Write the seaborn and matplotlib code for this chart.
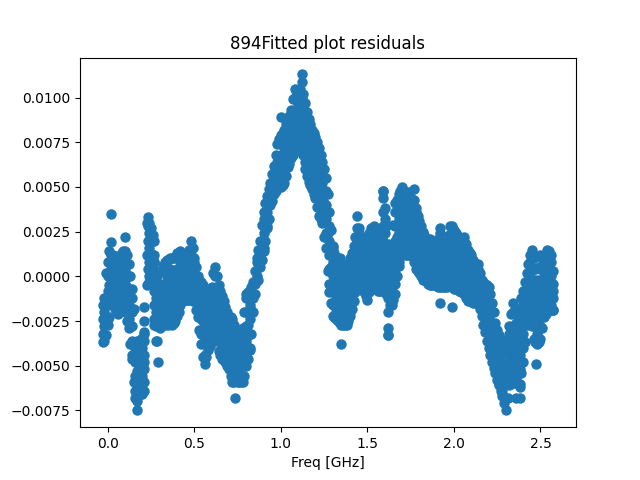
import matplotlib
matplotlib.use('Agg')
import matplotlib.pyplot as plt
import pandas as pd
import seaborn as sns

# residuals are typed in units of 1e-3, one list per frequency column
freq_low = [-0.03, -0.02, 0.0, 0.02, 0.04, 0.06, 0.08, 0.10, 0.12, 0.14, 0.16, 0.18, 0.20, 0.21, 0.23, 0.24,
            0.26, 0.27, 0.28, 0.30, 0.32, 0.34, 0.36, 0.38, 0.40, 0.42, 0.44, 0.46, 0.48, 0.50, 0.52, 0.54,
            0.56, 0.58, 0.60, 0.62, 0.64, 0.66, 0.68, 0.70, 0.72, 0.74, 0.76, 0.78, 0.80]
resid_low = [
    [-1.6, -2.4, -3.2, -3.7], [-1.2, -2.0, -2.8, -3.6], [0.8, 0.0, -0.8, -1.6, -2.4, -2.7],
    [1.9, 1.2, 0.4, -0.4, -1.2, -1.4], [0.8, 0.0, -0.8, -1.6, -1.8], [1.0, 0.4, -0.4, -1.2, -2.0, -2.1],
    [1.3, 0.8, 0.0, -0.8, -1.6, -1.8], [1.4, 1.2, 0.4, -0.4, -1.2, -2.0], [0.7, 0.0, -0.8, -1.6, -2.4, -2.9],
    [-0.7, -1.2, -2.0, -2.8, -3.6, -4.4, -4.6], [-3.7, -4.0, -4.8, -5.6, -6.4, -6.8], [-3.6, -4.4, -5.2, -6.0, -6.5],
    [-3.5, -4.0, -4.8, -5.6, -6.4, -6.6], [-3.1, -3.6, -4.4, -5.2, -5.9], [3.3, 2.8, 2.0, 1.2, 0.4, -0.4],
    [3.0, 2.4, 1.6, 0.8, 0.0, -0.3], [2.3, 2.0, 1.2, 0.4, -0.4], [1.2, 0.8, 0.0, -0.8, -1.6, -2.4, -2.7],
    [0.0, -0.4, -1.2, -2.0, -2.8, -3.6], [-0.5, -0.8, -1.6, -2.4, -2.9], [0.6, 0.4, -0.4, -1.2, -2.0, -2.6],
    [0.9, 0.0, -0.8, -1.6, -2.4, -2.6], [1.0, 0.4, -0.4, -1.2, -2.0, -2.6], [1.0, 0.0, -0.8, -1.6, -2.4, -2.6],
    [1.3, 0.4, -0.4, -1.2, -2.0, -2.2], [1.0, 0.8, 0.0, -0.8, -1.6], [0.9, 0.4, -0.4, -1.2, -1.3],
    [1.2, 0.8, 0.0, -0.8, -1.3], [2.0, 1.2, 0.4, -0.4, -1.2, -1.3], [1.0, 0.8, 0.0, -0.8, -1.4],
    [0.0, -0.4, -1.2, -2.0, -2.3], [-0.3, -0.8, -1.6, -2.4, -3.2, -3.8], [-0.8, -1.2, -2.0, -2.8, -3.6, -4.4, -4.9],
    [-1.2, -1.6, -2.4, -3.2, -4.0, -4.1], [-0.6, -1.2, -2.0, -2.8, -3.6, -3.7], [0.5, 0.0, -0.8, -1.6, -2.4, -2.9],
    [-0.5, -1.2, -2.0, -2.8, -3.6, -4.2], [-1.1, -1.6, -2.4, -3.2, -4.0, -4.6], [-1.7, -2.0, -2.8, -3.6, -4.4, -4.8],
    [-2.3, -3.2, -4.0, -4.8, -5.2], [-2.4, -2.8, -3.6, -4.4, -5.2, -5.9], [-3.1, -4.0, -4.8, -5.6, -5.8],
    [-3.3, -3.6, -4.4, -5.2, -5.9], [-2.9, -3.2, -4.0, -4.8, -5.6, -5.9], [-1.0, -1.2, -2.0, -2.8, -3.6, -4.4, -5.0]]

freq_mid = [0.82, 0.84, 0.86, 0.88, 0.90, 0.92, 0.94, 0.96, 0.98, 1.00, 1.02, 1.04, 1.06, 1.08, 1.10, 1.12,
            1.14, 1.16, 1.18, 1.20, 1.22, 1.24, 1.26, 1.28, 1.30, 1.32, 1.34, 1.36, 1.38, 1.40, 1.42, 1.44,
            1.46, 1.48, 1.50, 1.52, 1.54, 1.56, 1.58, 1.59, 1.60, 1.62, 1.64, 1.66]
resid_mid = [
    [-0.8, -1.6, -2.4, -3.2, -4.0, -4.1], [-0.3, -1.2, -2.0], [1.0, 0.8, 0.0], [2.0, 1.2, 0.5], [3.6, 3.2, 2.4, 1.6, 1.4],
    [4.5, 3.6, 2.8, 2.7], [5.2, 4.8, 4.0], [6.2, 5.4, 4.6], [7.4, 6.4, 5.6, 5.1], [7.9, 7.6, 6.8, 6.0, 5.2, 5.0],
    [8.2, 8.0, 7.2, 6.4, 5.6, 5.2], [8.8, 8.4, 7.6, 6.8, 6.1], [9.3, 8.8, 8.0, 7.2, 6.6], [10.5, 10.0, 9.2, 8.4, 7.6, 7.0],
    [9.8, 9.6, 8.8, 8.0, 7.2], [11.3, 10.9, 10.0, 9.2, 8.4, 7.6], [9.7, 8.8, 8.0, 7.2, 6.4, 6.0], [8.8, 8.4, 7.6, 6.8, 6.0, 5.3],
    [8.2, 8.0, 7.2, 6.4, 5.6, 4.9], [7.8, 6.8, 6.0, 5.2, 4.4], [7.2, 6.4, 5.6, 4.8, 4.0, 3.4], [6.4, 6.0, 5.2, 4.4, 3.6, 3.0],
    [5.5, 4.8, 4.0, 3.2, 2.4, 1.6], [3.6, 2.8, 2.0, 1.2, 0.4, -0.4, -0.9], [1.7, 1.6, 0.8, 0.0, -0.8, -1.6, -2.2],
    [1.0, 0.4, -0.4, -1.2, -2.0, -2.4], [1.0, 0.8, 0.0, -0.8, -1.6, -2.4, -2.6], [0.2, -0.4, -1.2, -2.0, -2.7],
    [0.4, 0.0, -0.8, -1.6, -2.4, -2.7], [1.0, 0.4, -0.4, -1.2, -2.0, -2.2], [1.7, 0.8, 0.0, -0.8, -1.4],
    [3.4, 2.7, 2.0, 1.2, 0.4, -0.3], [1.9, 1.6, 0.8, 0.0, -0.1], [1.7, 1.2, 0.4, -0.4, -0.9], [2.2, 1.6, 0.8, 0.0, -0.8, -1.3],
    [2.7, 2.0, 1.2, 0.4, -0.4, -0.5], [2.8, 2.4, 1.6, 0.8, 0.0, -0.5], [2.4, 2.0, 1.2, 0.4, -0.4, -0.8],
    [2.4, 1.6, 0.8, 0.0, -0.8], [4.8, 4.4, 3.6, 2.8, 2.0, 1.2, 0.4, -0.4, -0.8], [3.8, 3.2, 2.4, 1.6, 0.8, 0.0, -0.5],
    [1.8, 1.2, 0.4, -0.4, -1.2, -2.0, -2.9, -3.3], [1.7, 0.8, 0.0, -0.8, -1.6], [4.1, 3.6, 2.8, 2.0, 1.2, 0.4, -0.4, -1.0]]

freq_high = [1.68, 1.70, 1.72, 1.74, 1.76, 1.78, 1.80, 1.82, 1.84, 1.86, 1.88, 1.90, 1.92, 1.94, 1.96, 1.98,
             2.00, 2.02, 2.04, 2.06, 2.08, 2.10, 2.12, 2.14, 2.16, 2.18, 2.20, 2.22, 2.24, 2.26, 2.28, 2.30,
             2.32, 2.34, 2.36, 2.38, 2.40, 2.42, 2.44, 2.46, 2.48, 2.50, 2.52, 2.54, 2.56, 2.575]
resid_high = [
    [4.6, 4.0, 3.2, 2.4, 1.6, 0.8, 0.6], [5.0, 4.4, 3.6, 2.8, 2.0, 1.9], [4.6, 4.0, 3.2, 2.4, 1.6, 1.2], [4.7, 4.4, 3.6, 2.8, 2.0, 1.2],
    [4.0, 3.2, 2.4, 1.6, 1.2], [3.8, 3.6, 2.8, 2.0, 1.2, 0.4], [3.1, 2.4, 1.6, 0.8, 0.2], [2.5, 2.0, 1.2, 0.4, -0.2],
    [2.1, 1.6, 0.8, 0.0, -0.2], [2.1, 1.2, 0.4, -0.4, -0.5], [1.9, 1.6, 0.8, 0.0, -0.5], [1.9, 1.2, 0.4, -0.4, -0.5],
    [2.4, 1.6, 0.8, 0.0, -0.6], [1.7, 1.2, 0.4, -0.4, -0.6], [1.9, 1.6, 0.8, 0.0, -0.6], [2.8, 2.0, 1.2, 0.4, -0.4],
    [2.6, 2.4, 1.6, 0.8, 0.0, -0.7], [2.3, 2.0, 1.2, 0.4, -0.4, -0.7], [2.0, 1.6, 0.8, 0.0, -0.8, -0.9], [2.2, 2.0, 1.2, 0.4, -0.4, -1.0],
    [1.5, 0.8, 0.0, -0.8, -1.4], [1.2, 0.4, -0.4, -1.2, -1.4], [0.7, 0.0, -0.8, -1.5], [0.7, 0.4, -0.4, -1.2],
    [-0.2, -0.8, -1.6, -2.2], [-0.4, -1.2, -2.0, -2.8, -3.1], [-0.6, -1.6, -2.4, -3.2, -4.0], [-1.5, -2.0, -2.8, -3.6, -4.4, -4.8],
    [-2.6, -3.2, -4.0, -4.8, -5.4], [-3.3, -3.6, -4.4, -5.2, -6.0, -6.1], [-3.9, -4.8, -5.6, -6.4, -6.7], [-4.3, -5.2, -6.0, -6.8, -7.5],
    [-2.8, -3.2, -4.0, -4.8, -5.6, -6.1], [-1.5, -2.0, -2.8, -3.6, -4.4, -5.2, -5.8], [-2.6, -3.2, -4.0, -4.8, -5.6, -5.7],
    [-1.8, -2.0, -2.8, -3.6, -4.4, -5.2, -6.0, -6.2], [-0.8, -1.6, -2.4, -3.2, -4.0, -4.8], [0.2, -0.4, -1.2, -2.0, -2.7],
    [1.2, 0.8, 0.0, -0.8, -1.6, -2.2], [1.0, 0.4, -0.4, -1.2, -2.0, -2.8, -3.5], [-0.2, -0.8, -1.6, -2.4, -3.2, -3.8],
    [1.2, 0.4, -0.4, -1.2, -2.0, -2.8, -3.5], [0.8, 0.0, -0.8, -1.6, -2.3], [1.5, 1.2, 0.4, -0.4, -1.2, -1.9],
    [1.2, 0.8, 0.0, -0.8, -1.6, -1.9], [-0.4, -1.2, -1.9]]

# columns in between, top / middle / bottom of the band
freq_edge = [-0.01, 0.01, 0.03, 0.05, 0.07, 0.09, 0.11, 0.13, 0.15, 0.17, 0.19, 0.21, 0.225, 0.25, 0.265, 0.285,
             0.31, 0.33, 0.35, 0.37, 0.39, 0.41, 0.43, 0.45, 0.47, 0.49, 0.51, 0.53, 0.55, 0.57, 0.59, 0.61,
             0.63, 0.65, 0.67, 0.69, 0.71, 0.73, 0.75, 0.77, 0.79, 0.81, 0.83, 0.85, 0.87, 0.89, 0.91, 0.93,
             0.95, 0.97, 0.99, 1.01, 1.03, 1.05, 1.07, 1.09, 1.11, 1.13, 1.15, 1.17, 1.19, 1.21, 1.23, 1.25,
             1.27, 1.29, 1.31, 1.33, 1.35, 1.37, 1.39, 1.41, 1.43, 1.45, 1.47, 1.49, 1.51, 1.53, 1.55, 1.57,
             1.61, 1.63, 1.65, 1.67, 1.69, 1.71, 1.73, 1.75, 1.77, 1.79, 1.81, 1.83, 1.85, 1.87, 1.89, 1.91,
             1.93, 1.95, 1.97, 1.99, 2.01, 2.03, 2.05, 2.07, 2.09, 2.11, 2.13, 2.15, 2.17, 2.19, 2.21, 2.23,
             2.25, 2.27, 2.29, 2.31, 2.33, 2.35, 2.37, 2.39, 2.41, 2.43, 2.45, 2.47, 2.49, 2.51, 2.53, 2.55, 2.57]
edge_top = [0.2, 1.4, 1.2, 1.0, 1.2, 1.4, 1.2, 0.0, -1.8, -3.6, -3.5, -3.2, 3.0, 2.7, 2.0, 0.0,
            0.3, 0.8, 0.9, 1.0, 1.1, 1.2, 1.0, 1.0, 1.5, 1.6, 0.5, -0.2, -0.5, -1.0, -0.9, 0.2,
            0.0, -0.8, -1.4, -2.0, -2.3, -2.7, -3.2, -3.1, -2.0, -0.9, -0.6, 0.3, 1.5, 2.9, 4.1, 4.9,
            5.7, 6.8, 7.7, 8.0, 8.5, 9.0, 9.9, 10.1, 10.5, 10.2, 9.2, 8.5, 8.0, 7.5, 6.8, 6.0,
            4.6, 2.6, 1.3, 1.0, 0.6, 0.3, 0.7, 1.3, 2.2, 2.4, 1.8, 1.9, 2.4, 2.7, 2.6, 2.4,
            2.8, 1.7, 2.9, 4.3, 4.8, 4.8, 4.6, 4.4, 4.3, 3.4, 2.8, 2.3, 2.1, 2.0, 1.9, 2.1,
            2.0, 1.8, 2.3, 2.7, 2.4, 2.1, 2.1, 1.8, 1.3, 0.9, 0.7, 0.2, -0.3, -0.5, -1.0, -2.0,
            -3.0, -3.6, -4.1, -3.5, -2.1, -2.0, -2.2, -1.2, -0.3, 0.7, 1.3, 0.4, 0.5, 1.0, 1.2, 1.4, 0.3]
edge_mid = [-1.5, -0.5, -0.2, -0.5, -0.3, -0.3, -0.6, -1.9, -3.8, -5.3, -5.0, -4.8, 1.2, 1.1, 0.8, -1.8,
            -1.2, -1.0, -0.9, -0.9, -0.7, -0.4, -0.2, -0.1, 0.1, 0.1, -0.7, -1.6, -2.5, -2.8, -2.4, -1.5,
            -1.8, -2.6, -3.0, -3.5, -4.0, -4.3, -4.5, -4.5, -3.8, -2.7, -1.9, -0.4, 0.7, 1.9, 3.0, 4.0,
            5.0, 5.8, 6.4, 6.5, 7.0, 7.6, 8.3, 8.6, 9.0, 8.5, 7.4, 6.8, 6.3, 5.7, 5.0, 4.1,
            2.4, 0.5, -0.5, -0.7, -1.0, -1.2, -0.9, -0.3, 0.6, 1.1, 0.6, 0.4, 0.7, 1.1, 1.0, 0.8,
            0.9, 0.0, 0.8, 2.2, 3.0, 3.2, 2.9, 2.8, 2.6, 1.8, 1.4, 1.0, 0.8, 0.7, 0.7, 0.7,
            0.7, 0.6, 0.9, 1.0, 0.9, 0.7, 0.6, 0.3, 0.0, -0.3, -0.3, -0.8, -1.5, -2.0, -2.7, -3.5,
            -4.4, -5.0, -5.6, -5.2, -4.0, -3.9, -4.1, -3.3, -2.0, -0.8, -0.7, -1.6, -1.6, -1.0, -0.4, -0.3, -0.8]
edge_bottom = [-3.3, -2.3, -1.6, -1.9, -1.9, -1.9, -2.5, -3.8, -5.9, -7.0, -6.6, -6.4, -0.5, -0.4, -0.5, -3.6,
               -2.8, -2.7, -2.7, -2.7, -2.5, -2.0, -1.4, -1.3, -1.3, -1.4, -1.9, -3.0, -4.5, -4.5, -3.9, -3.3,
               -3.6, -4.4, -4.7, -5.0, -5.6, -5.9, -5.9, -5.9, -5.6, -4.6, -3.2, -1.0, -0.2, 0.9, 2.0, 3.2,
               4.2, 4.8, 5.1, 5.1, 5.6, 6.3, 6.8, 7.1, 7.4, 6.8, 5.6, 5.1, 4.6, 3.9, 3.2, 2.2,
               0.3, -1.5, -2.3, -2.5, -2.7, -2.7, -2.5, -1.8, -0.9, -0.2, -0.5, -1.1, -0.9, -0.5, -0.6, -0.8,
               -1.0, -1.6, -1.3, 0.0, 1.2, 1.6, 1.2, 1.2, 0.8, 0.3, 0.0, -0.2, -0.4, -0.5, -0.5, -0.6,
               -0.6, -0.6, -0.5, -0.6, -0.7, -0.8, -0.9, -1.2, -1.4, -1.5, -1.4, -1.8, -2.7, -3.6, -4.4, -5.1,
               -5.8, -6.4, -7.1, -6.8, -6.0, -5.8, -6.0, -5.4, -3.7, -2.4, -2.8, -3.7, -3.7, -2.9, -2.1, -1.9, -1.9]

# the loose points sitting away from the main band
freq_loose = [0.02, 0.10, 0.17, 0.21, 0.21, 0.29, 0.735, 1.00, 1.35, 1.62, 1.45, 1.77, 1.92, 1.92, 1.99, 1.99, 2.36, 2.38, 2.475, 2.45, 0.42, 1.59]
resid_loose = [3.5, 2.2, -7.5, -1.7, -2.5, -4.8, -6.8, 8.9, -3.8, -3.3, 2.7, 4.9, 2.7, -1.5, 2.8, -1.7, -6.8, -6.8, -4.9, 1.5, 1.4, 4.8]

freqs = list(freq_loose)
resids = [r / 1000 for r in resid_loose]
for cols_f, cols_r in [(freq_low, resid_low), (freq_mid, resid_mid), (freq_high, resid_high)]:
    for f, col in zip(cols_f, cols_r):
        for r in col:
            freqs.append(f)
            resids.append(r / 1000)
for edge in [edge_top, edge_mid, edge_bottom]:
    for f, r in zip(freq_edge, edge):
        freqs.append(f)
        resids.append(r / 1000)

df = pd.DataFrame({'freq': freqs, 'resid': resids})

fig, ax = plt.subplots(figsize=(6.4, 4.8), dpi=100)
sns.scatterplot(data=df, x='freq', y='resid', s=36, color='#1f77b4', edgecolor='#1f77b4', linewidth=1.5, ax=ax)
ax.set_title('894Fitted plot residuals')
ax.set_xlabel('Freq [GHz]')
ax.set_ylabel('')
fig.savefig('out.png', dpi=100)
